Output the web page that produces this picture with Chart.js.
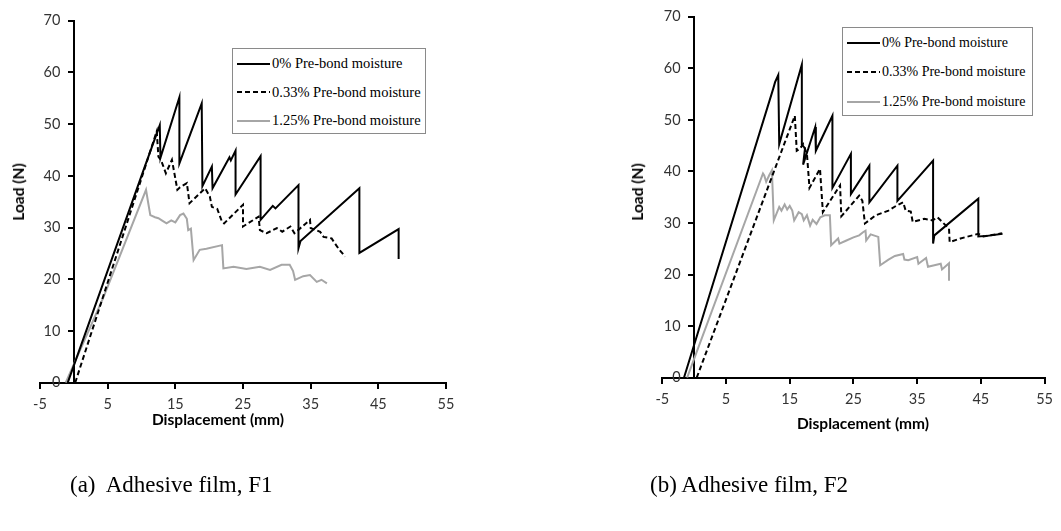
<!DOCTYPE html>
<html><head><meta charset="utf-8">
<script src="https://cdn.jsdelivr.net/npm/chart.js@4.4.1/dist/chart.umd.min.js"></script>
<style>
html,body{margin:0;padding:0;background:#fff;}
body{width:1061px;height:531px;overflow:hidden;position:relative;}
canvas{position:absolute;top:0;}
.t{position:absolute;white-space:nowrap;color:#000;}
.ax{font-family:Lato,"Open Sans",sans-serif;font-weight:bold;font-size:15.5px;}
.yt{transform:translate(-50%,-50%) rotate(-90deg);}
.xt{transform:translate(-50%,-50%);}
.cap{font-family:"Liberation Serif","Times New Roman",serif;font-size:23px;transform:translate(0,-50%);}
.leg{position:absolute;border:1px solid #8a8a8a;background:#fff;box-sizing:border-box;}
.row{position:absolute;left:0;font-family:"Liberation Serif","Times New Roman",serif;color:#000;white-space:nowrap;display:flex;align-items:center;}
.row svg{display:block;margin-left:4px;margin-right:2px;}
</style>
</head><body>
<canvas id="c1" width="530" height="531" style="left:0;width:530px;height:531px"></canvas>
<canvas id="c2" width="531" height="531" style="left:530px;width:531px;height:531px"></canvas>

<div class="t ax yt" style="left:18px;top:192px">Load (N)</div>
<div class="t ax yt" style="left:637px;top:192px">Load (N)</div>
<div class="t ax xt" style="left:218px;top:419px">Displacement (mm)</div>
<div class="t ax xt" style="left:863px;top:423px">Displacement (mm)</div>
<div class="t cap" style="left:70px;top:485px">(a)&nbsp; Adhesive film, F1</div>
<div class="t cap" style="left:650px;top:485px">(b) Adhesive film, F2</div>

<div id="leg1" class="leg" style="left:232px;top:48px;width:194px;height:86px"></div>
<div id="leg2" class="leg" style="left:842px;top:27px;width:191px;height:89px"></div>

<script>
// ---- tick labels / categories ----
const xTicks = [-5, 5, 15, 25, 35, 45, 55];
const yTicks = [0, 10, 20, 30, 40, 50, 60, 70];
const seriesNames = ["0% Pre-bond moisture", "0.33% Pre-bond moisture", "1.25% Pre-bond moisture"];

// ---- (a) Adhesive film, F1 ----
const f1_dry_x = [-0.9, 10.3, 12.7, 12.8, 15.6, 15.6, 18.9, 19.0, 20.4, 20.5, 23.0, 23.2, 23.9, 23.9, 27.6, 27.6, 29.4, 29.8, 33.2, 33.2, 33.5, 42.2, 42.2, 48.0, 48.0];
const f1_dry_y = [0, 41.1, 49.8, 43.5, 55.2, 42.4, 54.0, 38.0, 41.8, 37.6, 43.6, 43.0, 44.9, 36.4, 43.8, 31.5, 34.2, 33.7, 38.2, 26.0, 27.4, 37.6, 25.1, 29.7, 23.9];
const f1_mid_x = [0.2, 11.75, 12.25, 12.5, 12.9, 13.6, 14.5, 15.3, 15.7, 16.7, 17.1, 19.4, 20.1, 20.4, 21.2, 21.9, 22.2, 25.0, 25.0, 27.3, 27.5, 28.5, 30.0, 30.8, 32.0, 32.6, 34.9, 35.0, 36.4, 36.9, 38.1, 38.6, 39.3, 40.1];
const f1_mid_y = [0, 46.6, 48.6, 43.7, 43.0, 40.5, 43.1, 37.3, 37.8, 38.6, 34.7, 37.6, 36.0, 34.0, 33.6, 31.1, 30.8, 34.4, 30.2, 32.1, 29.5, 28.9, 29.9, 29.2, 30.2, 28.9, 31.5, 29.9, 29.2, 28.2, 27.9, 26.9, 25.6, 24.4];
const f1_wet_x = [-1.2, 4.4, 10.67, 11.0, 11.3, 12.0, 12.5, 13.0, 13.7, 14.4, 15.0, 15.7, 16.2, 16.7, 16.9, 17.3, 17.7, 18.6, 19.6, 21.9, 22.1, 23.6, 25.5, 27.5, 29.0, 30.7, 31.9, 32.4, 32.7, 33.9, 34.9, 35.9, 36.6, 37.4];
const f1_wet_y = [0, 16.6, 37.3, 34.7, 32.4, 32.0, 31.8, 31.4, 30.8, 31.4, 31.0, 32.4, 32.7, 31.7, 29.5, 29.8, 23.7, 25.7, 25.9, 26.6, 22.1, 22.4, 22.0, 22.4, 21.8, 22.8, 22.8, 21.6, 19.9, 20.6, 20.8, 19.5, 19.9, 19.2];

// ---- (b) Adhesive film, F2 ----
const f2_dry_x = [-1.6, 12.4, 12.7, 13.2, 13.35, 16.9, 16.9, 17.4, 17.1, 19.0, 19.1, 21.7, 21.7, 24.6, 24.6, 27.5, 27.5, 31.9, 31.9, 37.5, 37.5, 37.7, 44.6, 44.6, 46.0, 48.4];
const f2_dry_y = [0, 56.0, 57.3, 58.7, 45.3, 60.7, 45.2, 44.5, 41.3, 48.6, 44.0, 50.8, 36.8, 43.4, 35.6, 41.1, 34.0, 41.1, 34.3, 42.1, 26.0, 27.6, 34.7, 27.4, 27.5, 27.9];
const f2_mid_x = [0.4, 15.8, 16.1, 16.6, 17.1, 17.7, 18.1, 19.75, 20.2, 22.9, 23.1, 25.9, 26.4, 26.8, 28.5, 30.5, 31.8, 32.8, 33.2, 34.0, 34.3, 36.1, 37.4, 38.2, 40.0, 40.1, 41.8, 44.6, 45.4, 48.3];
const f2_mid_y = [0, 50.8, 44.0, 44.4, 45.3, 43.4, 36.8, 40.5, 32.1, 37.3, 31.3, 35.3, 34.3, 29.9, 31.5, 32.4, 33.4, 34.0, 32.4, 32.2, 30.2, 30.8, 30.5, 31.1, 28.9, 26.3, 27.0, 27.9, 27.4, 28.0];
const f2_wet_x = [-1.1, 10.8, 11.0, 11.3, 11.8, 12.2, 12.5, 13.35, 13.7, 14.2, 14.6, 15.0, 15.4, 15.7, 16.4, 16.9, 17.2, 17.7, 18.2, 18.6, 19.2, 19.8, 20.5, 21.3, 21.5, 22.6, 22.8, 23.9, 25.0, 25.9, 26.5, 26.9, 27.0, 27.7, 28.9, 29.2, 30.5, 31.5, 32.8, 33.0, 33.6, 35.0, 35.2, 36.4, 36.7, 38.7, 38.9, 40.0, 40.0];
const f2_wet_y = [0, 39.6, 39.2, 38.0, 39.3, 40.2, 30.5, 33.1, 32.4, 33.6, 32.6, 33.3, 32.4, 30.5, 32.1, 31.7, 30.5, 31.5, 29.5, 30.6, 29.8, 31.1, 31.5, 31.5, 25.7, 27.0, 26.0, 26.6, 27.2, 27.6, 28.2, 28.5, 26.6, 27.8, 27.3, 21.8, 22.9, 23.6, 24.0, 22.9, 22.8, 23.4, 22.1, 23.2, 21.5, 22.1, 21.0, 22.2, 18.8];

const styles = [
  {color: '#000000', dash: []},
  {color: '#000000', dash: [5, 3]},
  {color: '#a6a6a6', dash: []}
];

function pts(xs, ys) { return xs.map((v, i) => ({x: v, y: ys[i]})); }

// y-axis sits at x = 0 (crossing), move its labels left of the tick marks
const yLabelShift = {
  id: 'yLabelShift',
  beforeDraw(chart) {
    const sc = chart.scales.y;
    const items = sc.getLabelItems();
    if (!items._shifted) {
      items.forEach(it => { it.options.translation[0] -= 13.5; });
      items._shifted = true;
    }
  }
};

function build(id, sets, pad) {
  const tickFont = {family: 'Lato', size: 14.5};
  return new Chart(document.getElementById(id), {
    type: 'scatter',
    plugins: [yLabelShift],
    data: {
      datasets: sets.map((s, i) => ({
        label: seriesNames[i],
        data: pts(s[0], s[1]),
        showLine: true,
        borderColor: styles[i].color,
        borderDash: styles[i].dash,
        borderWidth: 2,
        pointRadius: 0,
        tension: 0,
        fill: false,
        borderJoinStyle: 'miter'
      }))
    },
    options: {
      responsive: false,
      animation: false,
      layout: {padding: pad},
      plugins: {legend: {display: false}, tooltip: {enabled: false}},
      scales: {
        x: {
          type: 'linear', min: -5, max: 55, position: {y: 0},
          afterBuildTicks: sc => { sc.ticks = xTicks.map(v => ({value: v})); },
          grid: {display: true, drawOnChartArea: false, drawTicks: true, tickLength: 5, color: '#000', lineWidth: 2},
          border: {display: true, color: '#000', width: 2},
          ticks: {font: tickFont, color: '#333', padding: 8, maxRotation: 0, autoSkip: false}
        },
        y: {
          type: 'linear', min: 0, max: 70, position: {x: 0},
          afterBuildTicks: sc => { sc.ticks = yTicks.map(v => ({value: v})); },
          grid: {display: true, drawOnChartArea: false, drawTicks: true, tickLength: 5, color: '#000', lineWidth: 2},
          border: {display: true, color: '#000', width: 2},
          ticks: {font: tickFont, color: '#333', padding: 8, autoSkip: false}
        }
      }
    }
  });
}

build('c1', [[f1_dry_x, f1_dry_y], [f1_mid_x, f1_mid_y], [f1_wet_x, f1_wet_y]],
      {left: 40, right: 84, top: 20.7, bottom: 148.3});
build('c2', [[f2_dry_x, f2_dry_y], [f2_mid_x, f2_mid_y], [f2_wet_x, f2_wet_y]],
      {left: 132.3, right: 8.3, top: 15.7, bottom: 153.3});

function legend(id, rowsTop, gap, size) {
  const box = document.getElementById(id);
  seriesNames.forEach((name, i) => {
    const r = document.createElement('div');
    r.className = 'row';
    r.style.top = (rowsTop + i * gap - 10) + 'px';
    r.style.height = '20px';
    r.style.fontSize = size + 'px';
    const dash = styles[i].dash.length ? ` stroke-dasharray="${styles[i].dash.join(' ')}"` : '';
    r.innerHTML = `<svg width="33" height="6"><line x1="0" y1="3" x2="33" y2="3" stroke="${styles[i].color}" stroke-width="2"${dash}/></svg><span>${name}</span>`;
    box.appendChild(r);
  });
}
legend('leg1', 14.5, 28.5, 14.5);
legend('leg2', 14.5, 29.5, 14);
</script>
</body></html>
